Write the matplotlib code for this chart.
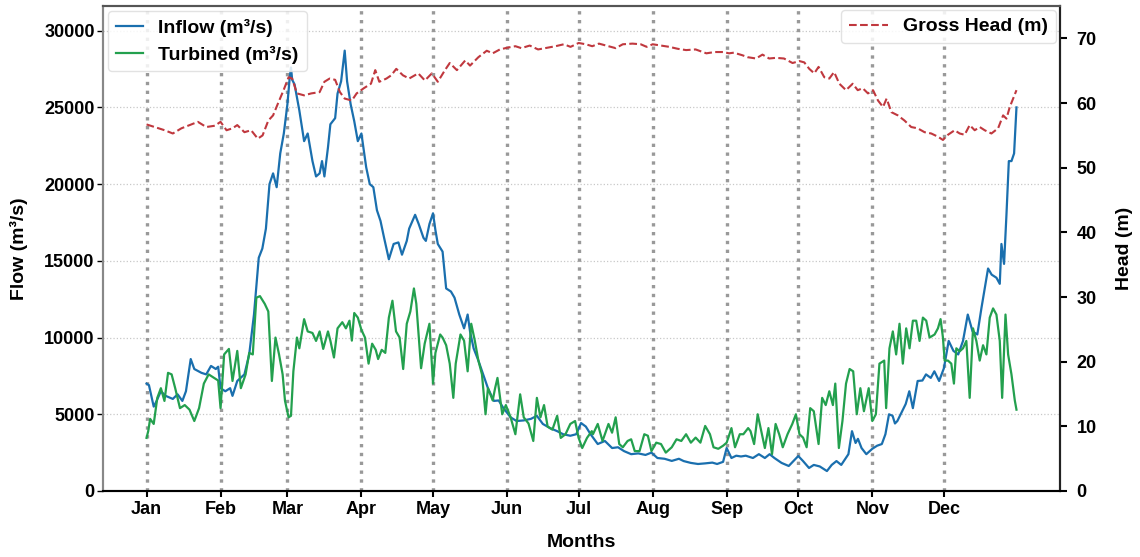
import matplotlib
matplotlib.use("Agg")
import matplotlib.pyplot as plt

plt.rcParams['font.family'] = ['Liberation Sans', 'DejaVu Sans']
plt.rcParams['font.weight'] = 'bold'

# ---------------- data (day of year, value) ----------------
month_starts = [0, 31, 59, 90, 120, 151, 181, 212, 243, 273, 304, 334]
month_labels = ["Jan", "Feb", "Mar", "Apr", "May", "Jun", "Jul", "Aug", "Sep", "Oct", "Nov", "Dec"]

inflow_day = [0, 1, 3, 4, 6, 8, 11, 13, 15, 16.5, 18.5, 20, 23, 25, 27, 29, 30, 31, 33, 35, 36, 38, 41, 43,
              45, 47, 48.5, 50, 51.5, 53, 54.5, 56, 57.5, 59, 60, 60.5, 61, 62, 64, 66, 67.5, 69.5, 71, 72.5,
              73.5, 74.5, 76, 77, 79, 80, 81.5, 83, 84, 85.5, 87, 88.5, 90, 92, 93.5, 95, 96.5, 98, 99.5,
              101.5, 103.5, 105.5, 107, 109, 110, 112.5, 114, 116, 117, 118.5, 120, 121, 122, 124, 125.5,
              127.5, 129, 131, 133, 134.5, 135.5, 137, 139, 141, 143, 145.5, 147.5, 149.5, 152.5, 155, 158,
              161, 163.5, 166, 169, 172, 174.5, 177.5, 180, 182, 184, 186, 189, 192, 195, 197.5, 200, 203,
              206, 209, 211.5, 214, 217, 220, 223, 225, 228, 231, 234, 237, 239, 241.5, 243, 245, 247, 249,
              251, 254, 256.5, 259, 261, 263, 266, 269, 271, 273, 275, 277.5, 279.5, 282, 285, 287, 289,
              291, 294, 295.5, 297, 298, 299.5, 301.5, 304, 306, 308, 309.5, 311, 312.5, 313.5, 314.5,
              316.5, 318, 319.5, 321, 323, 325, 326.5, 328.5, 330, 332, 334, 336, 338, 340, 342, 344, 346,
              348, 349.7, 351.1, 352.5, 354, 356, 357.4, 358.1, 359.2, 360.2, 361.2, 362.3, 363.4, 364.4]
inflow_val = [7000, 6900, 5500, 5800, 6500, 6200, 6000, 6300, 5870, 6500, 8600, 7950, 7700, 7600, 8150, 7950,
              8100, 6700, 6500, 6700, 6200, 7170, 7600, 8900, 11500, 15200, 15800, 17100, 20000, 20700,
              19800, 22000, 23300, 25200, 27000, 27600, 26800, 26500, 24800, 22800, 23300, 21500, 20500,
              20700, 21500, 20500, 22400, 23900, 24300, 25900, 26700, 28700, 26700, 25200, 24100, 22800,
              23300, 21100, 20000, 19800, 18300, 17600, 16500, 15100, 16100, 16200, 15400, 16300, 17100,
              18000, 17400, 16500, 16300, 17400, 18100, 17000, 16100, 15600, 13200, 13000, 12600, 11500,
              10600, 11500, 10400, 9300, 8500, 7600, 6700, 5870, 5900, 5400, 4800, 4560, 4600, 4700, 4900,
              4370, 4100, 3900, 3700, 3600, 3700, 4430, 4200, 3700, 3060, 3260, 2800, 2850, 2600, 2400,
              2450, 2350, 2500, 2150, 2100, 1960, 2100, 1950, 1830, 1760, 1800, 1850, 1760, 1900, 2800,
              2150, 2300, 2250, 2300, 2150, 2400, 2150, 2400, 2150, 1830, 1630, 1950, 2280, 1950, 1500,
              1700, 1600, 1300, 1700, 1950, 1700, 2400, 3900, 3130, 3400, 2800, 2400, 2750, 2950, 3060,
              3700, 5000, 4900, 4400, 4560, 5200, 5670, 6500, 5400, 7170, 7200, 7600, 7370, 7800, 7170,
              8000, 9780, 9130, 8900, 9780, 11500, 10400, 10200, 11900, 13200, 14500, 14100, 13900, 13500,
              16100, 14800, 18000, 21500, 21500, 22000, 25000]

turbined_day = [0, 0.7, 1.5, 3, 4.5, 6, 7.5, 9, 10.5, 12, 14, 16, 18, 20, 22, 24, 26, 28, 30, 31, 32.5, 34.5,
                36, 38, 39.5, 41.5, 43, 44.5, 46, 47.5, 49.5, 51, 52.5, 54, 55.5, 57, 58, 59.5, 60.5, 61.5,
                63, 64, 66, 67.5, 69.5, 71, 72.5, 74, 76, 77, 78.5, 80, 82, 83.5, 85, 86, 87, 88.5, 90,
                91.5, 93, 94.5, 96, 97, 98.5, 100, 101.5, 103, 104.5, 106, 107.5, 109, 110.5, 112, 113,
                115, 116.5, 118.5, 120, 121, 123, 124, 125.5, 127, 128.5, 129.5, 131.5, 133, 134.5, 136,
                137.5, 139, 140.5, 142, 143, 145, 146, 147, 149, 150.5, 152.5, 154.5, 156.5, 158, 160, 162,
                163.5, 165, 166.5, 168, 170, 172, 173.5, 175.5, 177.5, 179.5, 181, 182.5, 184.5, 186.5,
                187, 189, 191, 193.5, 195, 196.5, 198, 199.5, 201.5, 203, 204.5, 206.5, 208.5, 210, 211.5,
                213.5, 215.5, 217.5, 220, 222, 224, 226, 228, 230, 232, 234, 236, 237.5, 239.5, 241.5,
                243, 245, 246.5, 248.5, 250, 252, 253, 254.5, 256, 257.5, 259, 260.5, 262, 263.5, 265,
                266.5, 268.5, 270.5, 272, 273.5, 275, 276.5, 278, 279.5, 281.5, 283, 284.5, 286, 287.5,
                288.5, 290, 291.5, 293, 294.5, 296, 297.5, 299, 300.5, 302.5, 304, 305.5, 307, 309, 309.8,
                311.2, 312.6, 314, 315.4, 316.8, 318.2, 319.6, 321, 322.4, 323.8, 325.2, 326.6, 328,
                330.1, 331.5, 332.6, 333.6, 334.3, 335.7, 337.1, 338.2, 339.2, 340.6, 342, 343.4, 344.8,
                346.2, 347.6, 349, 350.4, 351.8, 353.2, 354.6, 356, 357.4, 358.4, 359.8, 360.9, 362.3,
                363.7, 364.4]
turbined_val = [3460, 3900, 4700, 4370, 6070, 6700, 5870, 7700, 7600, 6700, 5400, 5600, 5300, 4560, 5400,
                7000, 7600, 7400, 7200, 5400, 8900, 9260, 7170, 9130, 6700, 7600, 9000, 8900, 12600, 12700,
                12200, 11700, 7170, 10000, 8900, 7600, 5870, 4800, 4900, 7800, 10000, 9300, 11200, 10400,
                10300, 9780, 10400, 9260, 10400, 9800, 8700, 10600, 11000, 10600, 11100, 9800, 11600,
                11300, 10500, 10000, 8300, 9600, 9200, 8600, 9200, 9000, 11300, 12400, 10400, 10000, 7950,
                10900, 11700, 13200, 12200, 8000, 9600, 10900, 7000, 9000, 10200, 10000, 9500, 8300, 6070,
                8300, 10200, 9800, 7800, 10900, 9800, 8500, 7600, 5000, 6700, 5900, 6700, 7370, 5000, 5600,
                4800, 3700, 6300, 4800, 4400, 3260, 6070, 4800, 5600, 4200, 4000, 4900, 3460, 3700, 4370,
                4560, 3460, 2800, 3460, 3900, 3700, 4370, 3260, 4370, 3800, 4800, 3060, 2850, 3260, 3370,
                2600, 2600, 3700, 3600, 2600, 3150, 3060, 2500, 2850, 3370, 3260, 3700, 3150, 3480, 3150,
                4240, 3700, 2850, 2750, 2950, 3150, 4100, 2850, 3700, 3700, 4100, 3900, 3060, 5000, 3900,
                2800, 4100, 2400, 4370, 3700, 2850, 3700, 4370, 5000, 3700, 3480, 2850, 5400, 5200, 3060,
                6070, 5600, 6500, 5600, 7000, 2800, 4560, 7000, 7950, 7800, 5000, 6700, 5200, 6700, 4560,
                5000, 8300, 8500, 5400, 9300, 10400, 8900, 10900, 8300, 10600, 9300, 11100, 11100, 9780,
                11300, 11100, 10000, 10200, 10600, 11200, 10000, 8500, 8500, 8300, 7000, 9300, 9100, 9300,
                9780, 6070, 10600, 9780, 8500, 9500, 8900, 11300, 11900, 11500, 9780, 6070, 11500, 8900,
                7600, 5900, 5300]

head_day = [0, 3.4, 7.6, 11, 14.6, 18, 21.5, 25, 28.6, 31, 33.5, 36, 38, 41, 43.8, 46.6, 48.6, 51, 53, 55,
            57.4, 59.5, 61, 63, 66, 69, 72.5, 74.5, 76.7, 79, 81, 83, 86, 88, 91, 94, 95.8, 97.5, 100.5,
            102.5, 104.6, 107.4, 110, 113.8, 116.6, 119.5, 122, 125, 127, 130, 133.5, 135.5, 139, 142.5,
            145, 148, 151.5, 154.5, 157, 160.5, 164, 168.5, 171.3, 174.8, 177.6, 181, 184, 186.7, 189.5,
            193.5, 196.5, 199.5, 203.5, 207, 209.5, 212, 215.5, 219, 222.5, 226, 230, 234.5, 238, 241.5,
            244, 246, 249.6, 251.8, 255.3, 258, 260.8, 263.6, 267, 270.6, 273.5, 275.5, 277.6, 279.7,
            281.5, 283.9, 286, 288, 290.2, 293, 295.8, 297.9, 300, 302.2, 304.3, 306.4, 308.5, 310, 312,
            314.7, 317.5, 320.3, 323, 325.9, 328.7, 331.5, 333.6, 335.7, 338.5, 340.6, 342.7, 344.8,
            346.9, 349, 351.1, 353.9, 356.7, 358.8, 360.2, 361.6, 363, 364.4]
head_val = [56.7, 56.3, 55.8, 55.3, 56.1, 56.6, 57.1, 56.3, 56.5, 57.1, 55.8, 56.1, 56.6, 55.5, 55.8, 54.5,
            55.0, 57.3, 58.1, 59.9, 62.0, 64.0, 63.8, 61.5, 61.2, 61.5, 61.7, 63.3, 63.8, 63.6, 61.7, 60.7,
            60.4, 61.5, 62.3, 63.0, 65.1, 63.3, 63.8, 64.3, 65.3, 64.3, 63.8, 64.6, 63.5, 64.6, 63.3, 65.1,
            66.2, 65.1, 66.6, 65.8, 67.1, 68.1, 67.7, 68.3, 68.6, 68.8, 68.5, 68.9, 68.3, 68.6, 68.8, 69.1,
            68.7, 69.3, 69.1, 68.8, 69.2, 68.8, 68.5, 69.1, 69.2, 69.1, 68.7, 69.1, 68.9, 68.7, 68.4, 68.2,
            68.3, 67.7, 67.9, 67.9, 67.7, 67.8, 67.4, 67.1, 66.9, 67.5, 66.9, 67.0, 66.9, 66.2, 66.5, 66.3,
            65.3, 64.6, 65.6, 64.0, 63.8, 64.8, 63.0, 62.0, 63.0, 62.0, 62.3, 61.5, 62.0, 60.4, 59.4, 60.7,
            58.6, 58.1, 57.3, 56.3, 56.1, 55.5, 55.3, 54.8, 54.3, 55.1, 55.8, 55.3, 55.1, 56.6, 55.8, 56.3,
            55.8, 55.3, 56.1, 58.1, 57.6, 59.4, 60.7, 62.0]

# ---------------- plot ----------------
fig = plt.figure(figsize=(11.4, 5.57), dpi=100)
ax = fig.add_axes([0.0904, 0.1185, 0.8394, 0.8705])
ax2 = ax.twinx()

c_in = '#1a6fae'
c_tu = '#23a04e'
c_hd = '#c0383e'

ax.plot(inflow_day, inflow_val, color=c_in, lw=1.6, label='Inflow (m³/s)', zorder=3)
ax.plot(turbined_day, turbined_val, color=c_tu, lw=1.6, label='Turbined (m³/s)', zorder=3)
ax2.plot(head_day, head_val, color=c_hd, lw=1.5, ls='--', label='Gross Head (m)')

for m in month_starts:
    ax.axvline(m, color='#999999', ls=':', lw=2.4, zorder=1)

ax.set_ylim(0, 31600)
ax2.set_ylim(0, 75)
ax.set_yticks([0, 5000, 10000, 15000, 20000, 25000, 30000])
ax2.set_yticks([0, 10, 20, 30, 40, 50, 60, 70])
ax.yaxis.grid(True, color='#c8c8c8', ls=':', lw=0.9)
ax.set_axisbelow(True)

ax.set_xticks(month_starts)
ax.set_xticklabels(month_labels)

ax.tick_params(axis='x', labelsize=13, length=4, width=1.5, pad=3)
ax.tick_params(axis='y', labelsize=13, length=4, width=1.0, pad=2)
ax2.tick_params(axis='y', labelsize=13, length=5, width=1.5, pad=7)

ax.set_xlabel('Months', fontsize=14, fontweight='bold', labelpad=12)
ax.set_ylabel('Flow (m³/s)', fontsize=14, fontweight='bold', labelpad=12)
ax2.set_ylabel('Head (m)', fontsize=14, fontweight='bold', labelpad=14)

for a in (ax, ax2):
    for s in a.spines.values():
        s.set_linewidth(1.5)
ax.spines['left'].set_color('#888888')
ax2.spines['left'].set_color('#888888')
ax.spines['top'].set_color('#555555')
ax2.spines['top'].set_color('#555555')
ax.spines['bottom'].set_color('#222222')
ax2.spines['right'].set_color('#222222')

leg1 = ax.legend(loc='upper left', handlelength=1.4, labelspacing=0.45,
                 borderaxespad=0.25, framealpha=0.85, edgecolor='#dddddd', prop={'weight': 'bold', 'size': 14})
leg2 = ax2.legend(loc='upper right', handlelength=2.0, borderaxespad=0.2,
                  framealpha=0.85, edgecolor='#dddddd', prop={'weight': 'bold', 'size': 14})

fig.savefig('out.png', dpi=100)
